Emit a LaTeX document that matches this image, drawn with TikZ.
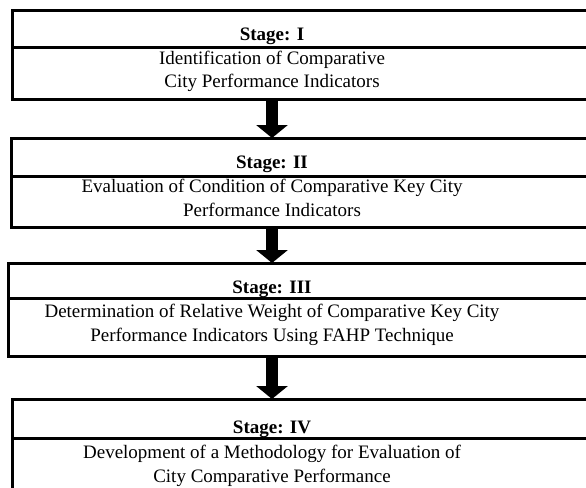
\documentclass[tikz,border=0pt]{standalone}
\usepackage{fontspec}
\setmainfont{Liberation Serif}
\usetikzlibrary{arrows.meta,positioning}

\begin{document}
\begin{tikzpicture}[
  x=1pt, y=-1pt,
  stagebox/.style={draw, line width=3pt, inner sep=0pt, outer sep=0pt,
                   anchor=north west, minimum width=620pt},
  divider/.style={line width=3pt},
  head/.style={font=\fontsize{19}{23}\selectfont\bfseries, anchor=base},
  body/.style={font=\fontsize{19}{23.5}\selectfont, align=center, anchor=base},
  flow/.style={line width=12pt, -{Triangle[width=31pt,length=13pt]}}
]
\clip (0,0) rectangle (586,487);

%% Stage I
\node[stagebox, minimum height=88.5pt] (s1) at (12.5,11) {};
\draw[divider] ([yshift=-37pt]s1.north west) -- ([yshift=-37pt]s1.north east);
\node[head] (h1) at (272,41) {Stage: I};
\node[body] (b1) at (272,88) {Identification of Comparative\\City Performance Indicators};

%% Stage II
\node[stagebox, minimum height=89.5pt] (s2) at (11.5,138) {};
\draw[divider] ([yshift=-38.5pt]s2.north west) -- ([yshift=-38.5pt]s2.north east);
\node[head] (h2) at (272,168) {Stage: II};
\node[body] (b2) at (272,216) {Evaluation of Condition of Comparative Key City\\Performance Indicators};

%% Stage III
\node[stagebox, minimum height=93pt] (s3) at (8.5,263) {};
\draw[divider] ([yshift=-35pt]s3.north west) -- ([yshift=-35pt]s3.north east);
\node[head] (h3) at (272,293) {Stage: III};
\node[body] (b3) at (272,341) {Determination of Relative Weight of Comparative Key City\\Performance Indicators Using FAHP Technique};

%% Stage IV
\node[stagebox, minimum height=130pt] (s4) at (12.5,399) {};
\draw[divider] ([yshift=-39pt]s4.north west) -- ([yshift=-39pt]s4.north east);
\node[head] (h4) at (272,433) {Stage: IV};
\node[body] (b4) at (272,482) {Development of a Methodology for Evaluation of\\City Comparative Performance};

%% Arrows
\draw[flow] (s1.south -| h1) -- (s2.north -| h1);
\draw[flow] (s2.south -| h2) -- (s3.north -| h2);
\draw[flow] (s3.south -| h3) -- (s4.north -| h3);

\end{tikzpicture}
\end{document}
